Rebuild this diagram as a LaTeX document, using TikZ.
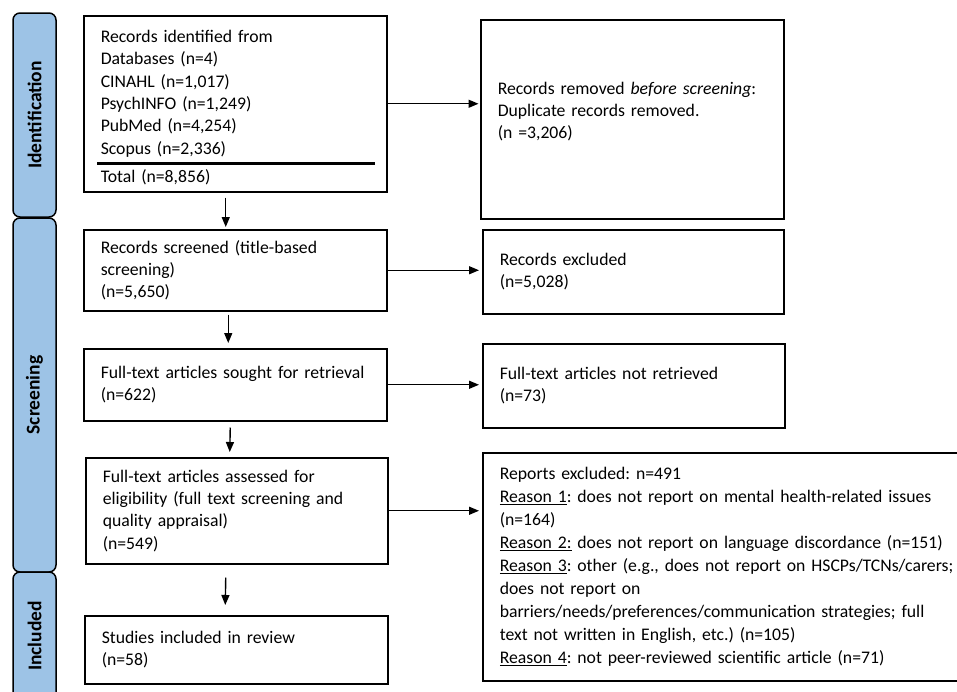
\documentclass[tikz,border=0pt]{standalone}
\usepackage{fontspec}
\setmainfont{Carlito}
\frenchspacing
\usetikzlibrary{arrows.meta, calc}
\definecolor{tabblue}{HTML}{9DC3E6}
\tikzset{>={Triangle[length=10pt,width=8pt]}}
\tikzset{
  box/.style={draw, line width=1.5pt, rectangle, anchor=north west, align=left,
    inner xsep=17pt, inner ysep=0pt, font=\fontsize{17.7}{22.3}\selectfont},
  tab/.style={draw, line width=1.5pt, fill=tabblue, rounded corners=7pt, rotate=90,
    minimum height=43pt, inner sep=0pt, font=\bfseries\fontsize{19.5}{22}\selectfont},
  arr/.style={->, line width=1.4pt},
  rulebar/.style={line width=2.5pt},
}

\begin{document}
\begin{tikzpicture}[x=1pt, y=-1pt]
  \useasboundingbox (0,0) rectangle (957,691);
  \clip (0,0) rectangle (957,691);

  %side tabs
  \node[tab, minimum width=204pt] (tabid) at (34.5,115) {Identification};
  \node[tab, minimum width=354pt] (tabscr) at (34.5,395) {Screening};
  \node[tab, minimum width=128pt] (tabinc) at (34.5,636) {Included};

  %identification
  \node[box, text width=269pt, minimum height=176pt] (ident) at (83,15)
    {\rule{0pt}{20pt}Records identified from\\ Databases (n=4)\\ CINAHL (n=1,017)\\
     PsychINFO (n=1,249)\\ PubMed (n=4,254)\\ Scopus (n=2,336)\\[6pt]
     Total (n=8,856)};
  \draw[rulebar] ([xshift=14pt, yshift=29pt]ident.south west)
    -- ([xshift=-13pt, yshift=29pt]ident.south east);
  \node[box, text width=269pt, minimum height=199pt] (removed) at (480,19)
    {Records removed \textit{before screening}:\\ Duplicate records removed.\\
     (n =3,206)\rule[-18pt]{0pt}{0pt}};

  %screening
  \node[box, text width=269pt, minimum height=81pt] (screened) at (83,229)
    {Records screened (title-based\\ screening)\\ (n=5,650)};
  \node[box, text width=267pt, minimum height=84pt] (excluded) at (482,229)
    {Records excluded\\ (n=5,028)};
  \node[box, text width=269pt, minimum height=72pt] (sought) at (83,348)
    {Full-text articles sought for retrieval\\ (n=622)};
  \node[box, text width=268pt, minimum height=84pt] (notret) at (482,343)
    {Full-text articles not retrieved\\ (n=73)};
  \node[box, text width=268pt, minimum height=106pt] (assessed) at (85,457)
    {Full-text articles assessed for\\ eligibility (full text screening and\\
     quality appraisal)\\ (n=549)};
  \node[box, text width=466pt, minimum height=228pt,
    font=\fontsize{17.7}{23}\selectfont] (reports) at (482,452)
    {Reports excluded: n=491\\
     \underline{Reason 1}: does not report on mental health-related issues\\
     (n=164)\\
     \underline{Reason 2:} does not report on language discordance (n=151)\\
     \underline{Reason 3}: other (e.g., does not report on HSCPs/TCNs/carers;\\
     does not report on\\
     barriers/needs/preferences/communication strategies; full\\
     text not written in English, etc.) (n=105)\\
     \underline{Reason 4}: not peer-reviewed scientific article (n=71)};

  %included
  \node[box, text width=269pt, minimum height=68pt] (included) at (84,615)
    {Studies included in review\\ (n=58)};

  %down arrows
  \draw[arr] ([xshift=-9.5pt, yshift=-5pt]ident.south) -- ([xshift=-9.5pt, yshift=2pt]screened.north);
  \draw[arr] ([xshift=-7pt, yshift=-3pt]screened.south) -- ([xshift=-7pt, yshift=5pt]sought.north);
  \draw[arr] ([xshift=-5pt, yshift=-6pt]sought.south) -- ([xshift=-7pt, yshift=5pt]assessed.north);
  \draw[arr] ([xshift=-11pt, yshift=-13pt]assessed.south) -- ([xshift=-11pt, yshift=10pt]included.north);

  %side arrows
  \draw[arr, shorten >=1.5pt] (ident.east) -- (ident.east -| removed.west);
  \draw[arr, shorten >=3pt] (screened.east) -- (screened.east -| excluded.west);
  \draw[arr, shorten >=3pt] (sought.east) -- (sought.east -| notret.west);
  \draw[arr, shorten >=3pt] (assessed.east) -- (assessed.east -| reports.west);
\end{tikzpicture}
\end{document}
